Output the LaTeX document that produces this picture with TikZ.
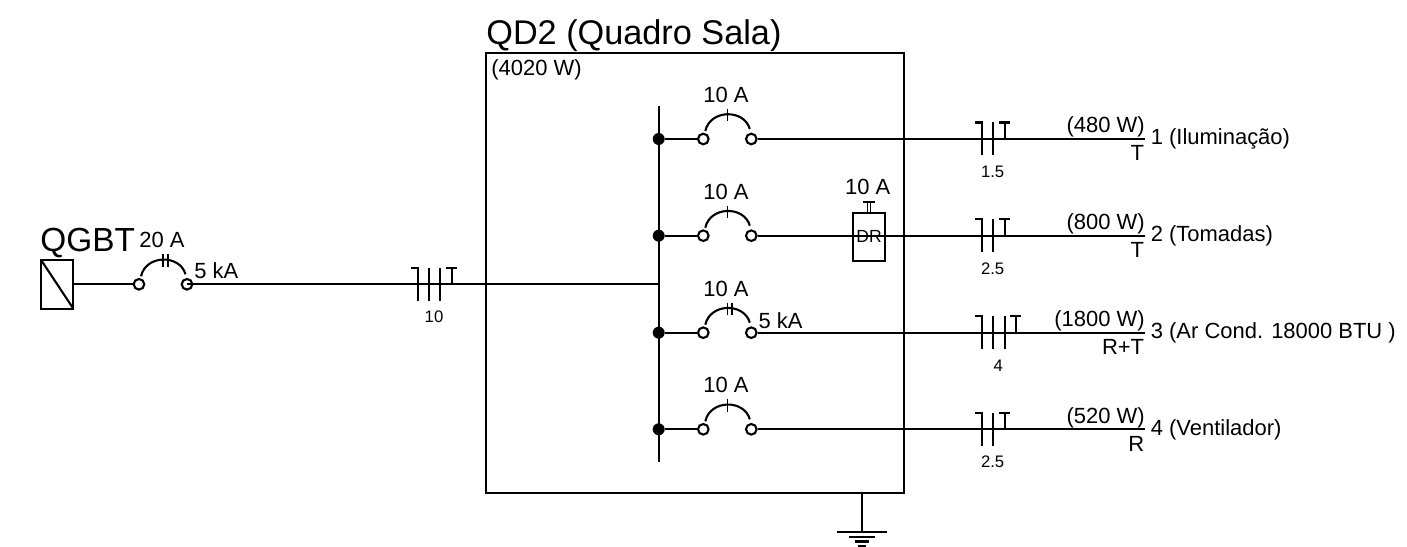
\documentclass[tikz,border=0pt]{standalone}
\usepackage{fontspec}
\setmainfont{Liberation Sans}
\usetikzlibrary{calc}

\tikzset{
 rotulo/.style={inner sep=0pt, font=\fontsize{12.5}{14}\selectfont},
 titulo/.style={inner sep=0pt, font=\fontsize{19}{22}\selectfont},
 bitola/.style={inner sep=0pt, anchor=base, font=\fontsize{9.5}{11}\selectfont},
 borne/.style={circle, draw, very thick, fill=white, inner sep=0pt, minimum size=0.212cm},
 ponto/.style={circle, fill=black, inner sep=0pt, minimum size=0.24cm},
}

% disjuntor: entrada, saida, x, y, polos
\newcommand{\disjuntor}[5]{
 \node[borne] (#1) at (#3,#4) {};
 \node[borne] (#2) at (#3+48,#4) {};
 \draw[very thick] (#3+2,#4-8) .. controls (#3+7,#4-30) and (#3+41,#4-30) .. (#3+46.5,#4-10);
 \foreach \p in {1,...,#5} {
  \draw[thick] (#3+24+4.8*\p-4.8,#4-30) --++(0,12.5);
 }
}

% fiacao: x, y, fases, bitola, nome
\newcommand{\fiacao}[5]{
 \draw[very thick] (#1-7,#2-16.5) -- (#1,#2-16.5) --++(0,33);
 \foreach \f in {1,...,#3} {
  \ifnum\f>1 \draw[very thick] (#1+11.3*\f-11.3,#2-16.5) --++(0,33); \fi
 }
 \draw[very thick] (#1+11.3*#3-6,#2-16.5) --++(11.5,0);
 \draw[very thick] (#1+11.3*#3,#2-16.5) --++(0,16.5);
 \node[bitola] (#5) at (#1+5.65*#3-0.65,#2+38.5) {#4};
}

\begin{document}
\begin{tikzpicture}[x=0.02cm, y=-0.02cm]
\useasboundingbox (0,0) rectangle (1407,547);

\node[draw, very thick, outer sep=0pt, anchor=north west, minimum width=8.364cm, minimum height=8.794cm] (quadro) at (485.7,53.3) {};
\node[titulo, font=\fontsize{19.5}{22}\selectfont, anchor=base west] (qdnome) at (486,45) {QD2 (Quadro Sala)};
\node[rotulo, anchor=base west] (qdpot) at (491,75.7) {(4020 W)};

% entrada
\node[draw, very thick, outer sep=0pt, minimum width=0.646cm, minimum height=0.974cm] (qgbt) at (57.2,284.3) {};
\draw[very thick] (qgbt.north west) -- (qgbt.south east);
\node[titulo, anchor=base west] (qgbtnome) at (40,251.7) {QGBT};
\disjuntor{qa}{qb}{139}{284.3}{2}
\node[rotulo, anchor=base] (qcorr) at (162,248) {20 A};
\node[rotulo, anchor=base west] (qcc) at (194,279) {5 kA};
\coordinate (busin) at (658.7,284.3);
\draw[very thick] (qgbt) -- (qa);
\draw[very thick] (qb.center) -- (busin);
\fiacao{417.7}{284.3}{3}{10}{bitmain}

% barramento
\coordinate (bustop) at (658.7,106);
\coordinate (busbot) at (658.7,462);
\draw[very thick] (bustop) -- (busbot);

\foreach \k/\y/\pol/\fios/\bit/\pot/\fase/\nome in {
 1/139/1/2/1.5/480/T/{1 (Iluminação)},
 2/235.7/1/2/2.5/800/T/{2 (Tomadas)},
 3/332.7/2/3/4/1800/R+T/{3 (Ar Cond. 18000 BTU )},
 4/429.3/1/2/2.5/520/R/{4 (Ventilador)}} {
 \node[ponto] (dot\k) at (658.7,\y) {};
 \disjuntor{in\k}{out\k}{703.3}{\y}{\pol}
 \coordinate (fim\k) at (1145,\y);
 \draw[very thick] (dot\k) -- (in\k);
 \draw[very thick] (out\k) -- (fim\k);
 \node[rotulo, anchor=base] (corr\k) at (726,\y-36.3) {10 A};
 \fiacao{982}{\y}{\fios}{\bit}{bit\k}
 \node[rotulo, anchor=base east] (pot\k) at (1145,\y-6) {(\pot{} W)};
 \node[rotulo, anchor=base east] (fase\k) at (1144.5,\y+22) {\fase};
 \node[rotulo, anchor=base west] (nome\k) at (1150.5,\y+6) {\nome};
}
\node[rotulo, anchor=base west] (cc3) at (758.3,328.3) {5 kA};

% DR
\node[draw, very thick, outer sep=0pt, minimum width=0.652cm, minimum height=0.966cm, font=\fontsize{10}{12}\selectfont, inner sep=0pt] (dr) at (869,236.9) {DR};
\coordinate (drtop) at (869,201.7);
\draw[thick] ([xshift=-0.034cm]dr.north) -- ([xshift=-0.034cm]dr.north |- drtop);
\draw[thick] ([xshift=0.034cm]dr.north) -- ([xshift=0.034cm]dr.north |- drtop);
\draw[very thick] ($(drtop)+(-6,0)$) -- ($(drtop)+(6,0)$);
\node[rotulo, anchor=base] (drcorr) at (867.7,195) {10 A};

% terra
\coordinate (gnd) at (861.7,531.7);
\draw[very thick] (quadro.south -| gnd) -- (gnd);
\foreach \d/\w in {0/25,5/13,9.8/7,14.3/4} {
 \draw[very thick] ($(gnd)+(-\w,\d)$) -- ($(gnd)+(\w,\d)$);
}
\end{tikzpicture}
\end{document}
